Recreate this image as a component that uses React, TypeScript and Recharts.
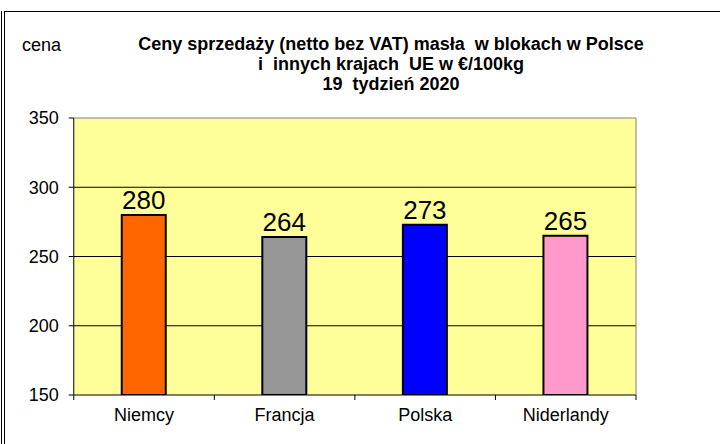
import { Bar, BarChart, CartesianGrid, Cell, LabelList, ReferenceLine, XAxis, YAxis } from "recharts";

const countries = ["Niemcy", "Francja", "Polska", "Niderlandy"];
const prices = [280, 264, 273, 265];
const barColors = ["#FF6600", "#969696", "#0000FF", "#FF99CC"];
const yTicks = [150, 200, 250, 300, 350];
const titleLines = [
  "Ceny sprzedaży (netto bez VAT) masła  w blokach w Polsce",
  "i  innych krajach  UE w €/100kg",
  "19  tydzień 2020",
];

const data = countries.map((name, i) => ({ name, price: prices[i] }));

const FONT = "'Liberation Sans', Arial, sans-serif";

// Excel-style category ticks: marks sit on the band edges, labels in the middle
function CategoryTick(props: any) {
  const { x, y, payload, index, visibleTicksCount, width } = props;
  const band = width && visibleTicksCount ? width / visibleTicksCount : 140.5;
  const left = x - band / 2;
  const last = index === visibleTicksCount - 1;
  return (
    <g>
      <line x1={left} x2={left} y1={y} y2={y + 5} stroke="#000" />
      {last && <line x1={left + band} x2={left + band} y1={y} y2={y + 5} stroke="#000" />}
      <text x={x} y={y + 26} textAnchor="middle" fontSize={18} fontFamily={FONT} fill="#000">
        {payload.value}
      </text>
    </g>
  );
}

export default function App() {
  return (
    <div style={{ position: "absolute", left: 0, top: 0, width: 720, height: 444, background: "#fff", overflow: "hidden" }}>
      {/* frame: double line on the left, single on top */}
      <div style={{ position: "absolute", left: 1, top: 11, width: 1, height: 433, background: "#000" }} />
      <div style={{ position: "absolute", left: 4, top: 11, width: 1, height: 433, background: "#000" }} />
      <div style={{ position: "absolute", left: 4, top: 11, width: 716, height: 1, background: "#000" }} />

      <div style={{ position: "absolute", left: 22, top: 35, fontFamily: FONT, fontSize: 18, color: "#000" }}>cena</div>
      <div style={{ position: "absolute", left: 91, top: 33.5, width: 600, fontFamily: FONT, fontSize: 18, fontWeight: "bold", color: "#000", textAlign: "center", lineHeight: "20px", whiteSpace: "pre" }}>
        {titleLines.map((l, i) => <div key={i}>{l}</div>)}
      </div>

      <div style={{ position: "absolute", left: 0, top: 0 }}>
        <BarChart width={720} height={444} data={data} margin={{ top: 118, right: 83, bottom: 19, left: 8.75 }} barSize={44}>
          <CartesianGrid vertical={false} stroke="#000" fill="#FFFF99" horizontalValues={[200, 250, 300]} />
          <XAxis dataKey="name" axisLine={{ stroke: "#000" }} tickLine={false} tickSize={0} tickMargin={0} height={30} tick={<CategoryTick />} interval={0} />
          <YAxis
            domain={[150, 350]}
            ticks={yTicks}
            width={65}
            axisLine={{ stroke: "#000" }}
            tickLine={{ stroke: "#000" }}
            tickSize={5}
            tickMargin={10}
            tick={{ fill: "#000", fontSize: 18, fontFamily: FONT }}
            allowDataOverflow
          />
          <YAxis yAxisId="right" orientation="right" width={1} domain={[150, 350]} tick={false} tickLine={false} axisLine={{ stroke: "#808080" }} />
          <ReferenceLine y={350} stroke="#808080" />
          <Bar dataKey="price" stroke="#000" strokeWidth={2} isAnimationActive={false}>
            {data.map((_, i) => (
              <Cell key={i} fill={barColors[i]} />
            ))}
            <LabelList dataKey="price" position="top" offset={6} fill="#000" fontSize={26} fontFamily={FONT} />
          </Bar>
        </BarChart>
      </div>
    </div>
  );
}
